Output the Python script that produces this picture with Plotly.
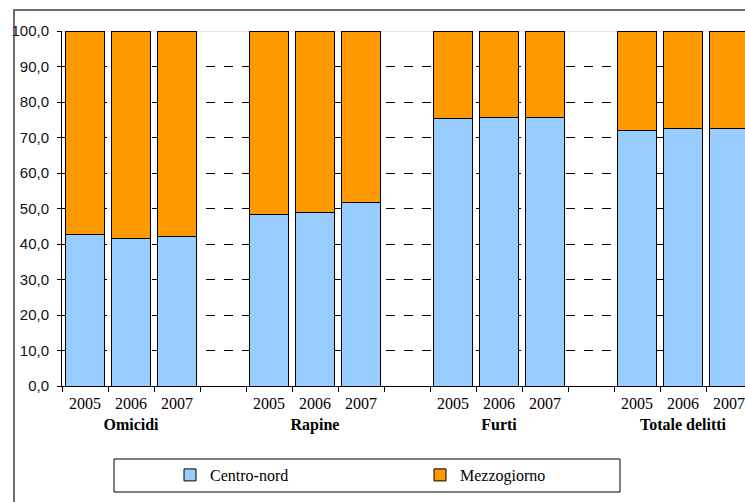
import plotly.graph_objects as go

categories = ["Omicidi", "Rapine", "Furti", "Totale delitti"]
years = ["2005", "2006", "2007"]
centro_nord = [42.6, 41.6, 42.1, 48.2, 48.9, 51.6, 75.3, 75.7, 75.7, 72.0, 72.4, 72.4]
mezzogiorno = [57.4, 58.4, 57.9, 51.8, 51.1, 48.4, 24.7, 24.3, 24.3, 28.0, 27.6, 27.6]
y_ticks = [0, 10, 20, 30, 40, 50, 60, 70, 80, 90, 100]

# positions: 3 bars per group plus one empty slot between groups
xpos, xtext = [], []
for gi, g in enumerate(categories):
    for yi, yr in enumerate(years):
        xpos.append(gi * 4 + yi)
        xtext.append(f"{yr}<br><b>{g}</b>" if yi == 1 else yr)

serif = "Liberation Serif"
sans = "Liberation Sans"

PW, PH = 745, 502

def px(x):  # page x -> plot paper fraction
    return (x - 62) / 683

def py(y):  # page y -> plot paper fraction
    return (386 - y) / 355

fig = go.Figure()
fig.add_trace(go.Bar(x=xpos, y=centro_nord, name="Centro-nord",
                     marker=dict(color="#99CCFF", line=dict(color="black", width=1))))
fig.add_trace(go.Bar(x=xpos, y=mezzogiorno, name="Mezzogiorno",
                     marker=dict(color="#FF9900", line=dict(color="black", width=1))))

fig.update_layout(
    width=PW, height=PH, autosize=False,
    barmode="stack", bargap=0.15,
    paper_bgcolor="white", plot_bgcolor="white",
    margin=dict(l=62, r=0, t=31, b=PH - 386, autoexpand=False),
    separators=",.",
    font=dict(family=serif),
    showlegend=True,
    legend=dict(orientation="h", x=px(170), xanchor="left",
                y=py(475), yanchor="middle",
                font=dict(family=serif, size=16, color="black"),
                traceorder="normal", entrywidth=205, bgcolor="rgba(0,0,0,0)"),
    xaxis=dict(range=[-0.5, 14.5 - 7 / 46], tickmode="array", tickvals=xpos, ticktext=xtext,
               tickangle=0, automargin=False, ticklabelstandoff=3,
               ticks="", showline=True, linecolor="black", linewidth=1,
               showgrid=False, zeroline=False,
               tickfont=dict(family=serif, size=16, color="black"),
               minor=dict(tickmode="linear", tick0=-0.5, dtick=1, ticks="outside",
                          ticklen=5, tickcolor="black", tickwidth=1, showgrid=False)),
    yaxis=dict(range=[0, 100], tickmode="array", tickvals=y_ticks, tickformat=".1f",
               automargin=False, ticklabelstandoff=5,
               ticks="outside", ticklen=4, tickcolor="black",
               showline=True, linecolor="black", linewidth=1,
               showgrid=True, gridcolor="black", gridwidth=1, griddash="dash",
               zeroline=False,
               tickfont=dict(family=sans, size=15, color="#111")),
    shapes=[
        dict(type="line", xref="paper", yref="y", x0=0, x1=1, y0=100, y1=100,
             line=dict(color="#c8c8c8", width=1), layer="between"),
        dict(type="rect", xref="paper", yref="paper",
             x0=px(14), x1=px(760), y0=py(510), y1=py(10),
             line=dict(color="#404040", width=1.5), fillcolor="rgba(0,0,0,0)"),
        dict(type="rect", xref="paper", yref="paper",
             x0=px(114), x1=px(620), y0=py(492), y1=py(459),
             line=dict(color="black", width=1), fillcolor="rgba(0,0,0,0)"),
    ],
)

fig.write_html("out.html",
               config={"displayModeBar": False},
               post_script="document.body.style.margin='0';document.body.style.overflow='hidden';")
